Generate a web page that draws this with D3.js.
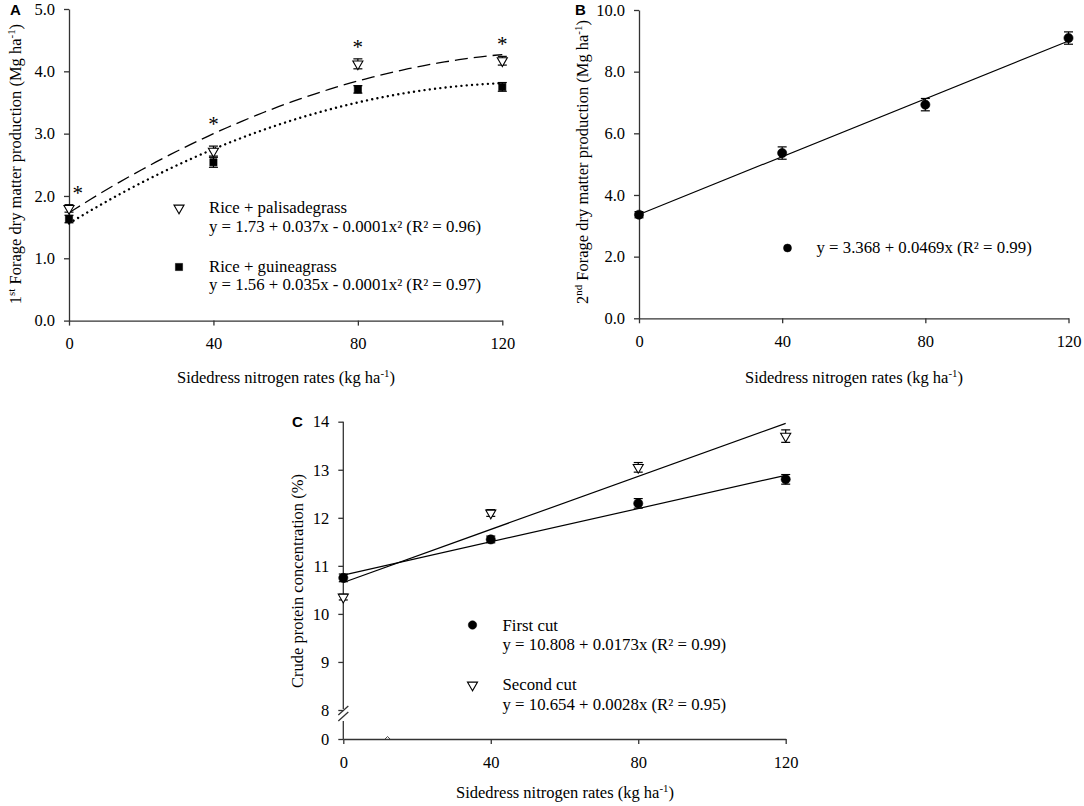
<!DOCTYPE html>
<html>
<head>
<meta charset="utf-8">
<script src="https://cdn.jsdelivr.net/npm/d3@7"></script>
<style>
  body { margin: 0; background: #fff; }
  text { font-family: "Liberation Serif", "Times New Roman", serif; fill: #000; }
</style>
</head>
<body>
<div id="chart"></div>
<script>
// ---- data ----
const rates = [0, 40, 80, 120];

// A: 1st cut forage dry matter (Mg/ha)
const palisadeMean = [1.80, 2.72, 4.12, 4.17];
const palisadeErr = [0.06, 0.08, 0.08, 0.07];
const guineaMean = [1.63, 2.54, 3.71, 3.75];
const guineaErr = [0.06, 0.08, 0.06, 0.07];
const palisadeFit = [1.73, 0.037, -0.000132];   // a, b, c of drawn curve
const guineaFit = [1.56, 0.0353, -0.000138];
const starRates = [2.4, 40, 80, 120];
const starLevels = [2.10, 3.20, 4.44, 4.48];
const ticksA = [0, 1, 2, 3, 4, 5];

// B: 2nd cut forage dry matter
const secondMean = [3.36, 5.36, 6.93, 9.09];
const secondErr = [0.10, 0.20, 0.20, 0.20];
const secondFit = [3.368, 0.0469];
const ticksB = [0, 2, 4, 6, 8, 10];

// C: crude protein (%)
const cpFirst = [10.75, 11.55, 12.30, 12.80];
const cpFirstErr = [0.08, 0.07, 0.10, 0.10];
const cpSecond = [10.35, 12.10, 13.05, 13.70];
const cpSecondErr = [0.06, 0.07, 0.10, 0.13];
const cpFirstFit = [10.808, 0.0173];
const cpSecondFit = [10.654, 0.0276];
const ticksC = [0, 8, 9, 10, 11, 12, 13, 14];

const axisColor = '#333';
const fs = 16.5;

let svg = d3.select('#chart')
  .append('svg')
  .attr('width', 1084)
  .attr('height', 806)
  .style('background-color', '#fff');

// text with superscripts: odd pieces are raised
function richText(t, pieces) {
  let up = false;
  pieces.forEach((s, i) => {
    const ts = t.append('tspan').text(s);
    if (i % 2 === 1) {
      ts.attr('dy', -6).attr('font-size', '0.66em');
      up = true;
    } else if (up) {
      ts.attr('dy', 6);
      up = false;
    }
  });
}

function styleAxis(g) {
  g.attr('font-family', null).attr('font-size', null);
  g.selectAll('path, line').attr('stroke', axisColor).attr('stroke-width', 1.3);
  g.selectAll('text').attr('font-size', fs).attr('fill', '#000');
}

function drawAxes(x, y, yTicks, yFmt, hideDomain) {
  const xg = svg.append('g')
    .attr('transform', 'translate(0,' + y.range()[0] + ')')
    .call(d3.axisBottom(x).tickValues(rates).tickSize(5).tickPadding(12).tickSizeOuter(0));
  styleAxis(xg);
  const yg = svg.append('g')
    .attr('transform', 'translate(' + x(0) + ',0)')
    .call(d3.axisLeft(y).tickValues(yTicks).tickFormat(yFmt).tickSize(5).tickPadding(9).tickSizeOuter(0));
  styleAxis(yg);
  if (hideDomain) yg.select('.domain').remove();
}

function errorBars(x, y, means, errs) {
  const g = svg.append('g').attr('stroke', '#000').attr('stroke-width', 1.2);
  rates.forEach((r, i) => {
    const cx = x(r), y0 = y(means[i] - errs[i]), y1 = y(means[i] + errs[i]);
    g.append('line').attr('x1', cx).attr('x2', cx).attr('y1', y0).attr('y2', y1);
    g.append('line').attr('x1', cx - 4.5).attr('x2', cx + 4.5).attr('y1', y0).attr('y2', y0);
    g.append('line').attr('x1', cx - 4.5).attr('x2', cx + 4.5).attr('y1', y1).attr('y2', y1);
  });
}

const triPath = d3.symbol(d3.symbolTriangle, 44)();
const sqPath = d3.symbol(d3.symbolSquare, 52)();
const dotPath = d3.symbol(d3.symbolCircle, 66)();

function markers(x, y, means, kind) {
  svg.append('g').selectAll('path')
    .data(means)
    .join('path')
      .attr('d', kind === 'tri' ? triPath : kind === 'sq' ? sqPath : dotPath)
      .attr('transform', (d, i) => 'translate(' + x(rates[i]) + ',' + y(d) + ')' + (kind === 'tri' ? ' rotate(180)' : ''))
      .attr('fill', kind === 'tri' ? '#fff' : '#000')
      .attr('stroke', '#000')
      .attr('stroke-width', kind === 'tri' ? 1.1 : 0.6);
}

function legendMark(cx, cy, kind, size) {
  svg.append('path')
    .attr('d', d3.symbol(kind === 'tri' ? d3.symbolTriangle : kind === 'sq' ? d3.symbolSquare : d3.symbolCircle, size)())
    .attr('transform', 'translate(' + cx + ',' + cy + ')' + (kind === 'tri' ? ' rotate(180)' : ''))
    .attr('fill', kind === 'tri' ? '#fff' : '#000')
    .attr('stroke', '#000')
    .attr('stroke-width', kind === 'tri' ? 1.1 : 0.5);
}

function label(xp, yp, str) {
  return svg.append('text').attr('x', xp).attr('y', yp).attr('font-size', fs + 0.3).text(str);
}

function panelLetter(xp, yp, str) {
  svg.append('text')
    .attr('x', xp).attr('y', yp)
    .style('font-family', '"Liberation Sans", Arial, sans-serif')
    .attr('font-weight', 'bold')
    .attr('font-size', 15)
    .text(str);
}

function xTitle(cx, yp) {
  const t = svg.append('text').attr('x', cx).attr('y', yp)
    .attr('text-anchor', 'middle').attr('font-size', fs);
  richText(t, ['Sidedress nitrogen rates (kg ha', '-1', ')']);
}

function yTitle(xp, cy, pieces) {
  const t = svg.append('text')
    .attr('transform', 'translate(' + xp + ',' + cy + ') rotate(-90)')
    .attr('text-anchor', 'middle').attr('font-size', fs);
  richText(t, pieces);
}

const xs = d3.range(0, 120.5, 2);

// ================= Panel A =================
let xA = d3.scaleLinear().domain([0, 120]).range([69, 502.3]);
let yA = d3.scaleLinear().domain([0, 5]).range([320.6, 9]);
drawAxes(xA, yA, ticksA, d3.format('.1f'), false);

const quad = c => v => c[0] + c[1] * v + c[2] * v * v;
svg.append('path')
  .attr('d', d3.line().x(d => xA(d)).y(d => yA(quad(palisadeFit)(d)))(xs))
  .attr('fill', 'none').attr('stroke', '#000').attr('stroke-width', 1.3)
  .attr('stroke-dasharray', '13,6');
svg.append('path')
  .attr('d', d3.line().x(d => xA(d)).y(d => yA(quad(guineaFit)(d)))(xs))
  .attr('fill', 'none').attr('stroke', '#000').attr('stroke-width', 2.4)
  .attr('stroke-linecap', 'round')
  .attr('stroke-dasharray', '0.01,5.3');

errorBars(xA, yA, palisadeMean, palisadeErr);
errorBars(xA, yA, guineaMean, guineaErr);
markers(xA, yA, guineaMean, 'sq');
markers(xA, yA, palisadeMean, 'tri');

svg.append('g').selectAll('text')
  .data(starLevels)
  .join('text')
    .attr('x', (d, i) => xA(starRates[i]))
    .attr('y', d => yA(d) + 10)
    .attr('text-anchor', 'middle')
    .attr('font-size', 21)
    .text('*');

legendMark(179, 208, 'tri', 44);
label(209, 213, 'Rice + palisadegrass');
label(209, 232, 'y = 1.73 + 0.037x - 0.0001x² (R² = 0.96)');
legendMark(179, 267, 'sq', 52);
label(209, 272, 'Rice + guineagrass');
label(209, 290, 'y = 1.56 + 0.035x - 0.0001x² (R² = 0.97)');

panelLetter(10, 15, 'A');
xTitle(286, 383);
yTitle(21, 164, ['1', 'st', ' Forage dry matter production (Mg ha', '-1', ')']);

// ================= Panel B =================
let xB = d3.scaleLinear().domain([0, 120]).range([639, 1068.5]);
let yB = d3.scaleLinear().domain([0, 10]).range([318.3, 10]);
drawAxes(xB, yB, ticksB, d3.format('.1f'), false);

svg.append('path')
  .attr('d', d3.line().x(d => xB(d)).y(d => yB(secondFit[0] + secondFit[1] * d))([0, 120]))
  .attr('fill', 'none').attr('stroke', '#000').attr('stroke-width', 1.2);
errorBars(xB, yB, secondMean, secondErr);
markers(xB, yB, secondMean, 'dot');

legendMark(787.5, 248, 'dot', 50);
label(816.5, 253, 'y = 3.368 + 0.0469x (R² = 0.99)');

panelLetter(575, 15, 'B');
xTitle(854, 383);
yTitle(588, 162, ['2', 'nd', ' Forage dry matter production (Mg ha', '-1', ')']);

// ================= Panel C =================
let xC = d3.scaleLinear().domain([0, 120]).range([343.3, 785.7]);
let yC = d3.scaleLinear().domain([0, 8, 14]).range([739, 710, 421.7]);
drawAxes(xC, yC, ticksC, d3.format('d'), true);

// broken y axis
const ax = xC(0);
const axC = svg.append('g').attr('stroke', axisColor).attr('stroke-width', 1.3);
axC.append('line').attr('x1', ax).attr('x2', ax).attr('y1', yC(14)).attr('y2', yC(8) - 1);
axC.append('line').attr('x1', ax).attr('x2', ax).attr('y1', yC(8) + 11).attr('y2', yC(0));
axC.append('line').attr('x1', ax - 5).attr('x2', ax + 5).attr('y1', yC(8) + 5).attr('y2', yC(8) - 4);
axC.append('line').attr('x1', ax - 5).attr('x2', ax + 5).attr('y1', yC(8) + 11).attr('y2', yC(8) + 2);
// small caret sitting on the x axis in the original
const caretRate = [12];
axC.selectAll('path.caret')
  .data(caretRate)
  .join('path')
    .attr('class', 'caret')
    .attr('d', d => 'M' + (xC(d) - 2.5) + ',' + yC(0) + 'L' + xC(d) + ',' + (yC(0) - 2.5) + 'L' + (xC(d) + 2.5) + ',' + yC(0))
    .attr('fill', 'none').attr('stroke-width', 0.9);

[cpFirstFit, cpSecondFit].forEach(f => {
  svg.append('path')
    .attr('d', d3.line().x(d => xC(d)).y(d => yC(f[0] + f[1] * d))([0, 120]))
    .attr('fill', 'none').attr('stroke', '#000').attr('stroke-width', 1.2);
});
errorBars(xC, yC, cpFirst, cpFirstErr);
errorBars(xC, yC, cpSecond, cpSecondErr);
markers(xC, yC, cpFirst, 'dot');
markers(xC, yC, cpSecond, 'tri');

legendMark(472.5, 625, 'dot', 56);
label(502.5, 631, 'First cut');
label(502.5, 650, 'y = 10.808 + 0.0173x (R² = 0.99)');
legendMark(472.5, 685, 'tri', 44);
label(502.5, 690, 'Second cut');
label(502.5, 710, 'y = 10.654 + 0.0028x (R² = 0.95)');

panelLetter(292, 427, 'C');
xTitle(565, 798);
yTitle(303, 581, ['Crude protein concentration (%)']);
</script>
</body>
</html>
